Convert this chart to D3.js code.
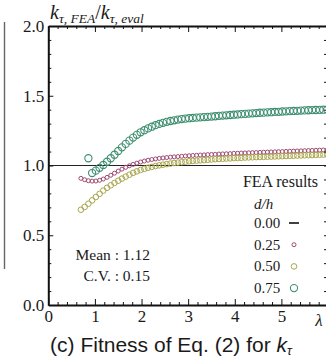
<!DOCTYPE html>
<html>
<head>
<meta charset="utf-8">
<script src="https://cdn.jsdelivr.net/npm/d3@7"></script>
<style>
  html, body { margin: 0; padding: 0; background: #fff; }
  svg { display: block; }
  .serif { font-family: "Liberation Serif", "DejaVu Serif", serif; fill: #1a1a1a; }
  .sans { font-family: "Liberation Sans", Arial, sans-serif; fill: #1a1a1a; }
</style>
</head>
<body>
<svg id="chart" width="326" height="360"></svg>
<script>
// Slenderness ratio λ at which each FEA run was made
const lambda = [
  0.70, 0.78, 0.86, 0.94, 1.02, 1.10, 1.18, 1.26, 1.34, 1.42,
  1.50, 1.58, 1.66, 1.74, 1.82, 1.90, 1.98, 2.06, 2.14, 2.22,
  2.30, 2.38, 2.46, 2.54, 2.62, 2.70, 2.78, 2.86, 2.94, 3.02,
  3.10, 3.18, 3.26, 3.34, 3.42, 3.50, 3.58, 3.66, 3.74, 3.82,
  3.90, 3.98, 4.06, 4.14, 4.22, 4.30, 4.38, 4.46, 4.54, 4.62,
  4.70, 4.78, 4.86, 4.94, 5.02, 5.10, 5.18, 5.26, 5.34, 5.42,
  5.50, 5.58, 5.66, 5.74, 5.82, 5.90, 5.98
];

// k_τ,FEA / k_τ,eval for d/h = 0.25
const ratio025 = [
  0.908, 0.898, 0.891, 0.888, 0.889, 0.894, 0.903, 0.915, 0.930, 0.945,
  0.960, 0.974, 0.987, 0.998, 1.008, 1.017, 1.025, 1.032, 1.038, 1.043,
  1.047, 1.051, 1.054, 1.057, 1.060, 1.062, 1.064, 1.066, 1.068, 1.070,
  1.072, 1.073, 1.075, 1.076, 1.078, 1.079, 1.080, 1.082, 1.083, 1.084,
  1.085, 1.087, 1.088, 1.089, 1.090, 1.091, 1.092, 1.093, 1.094, 1.095,
  1.096, 1.097, 1.098, 1.099, 1.100, 1.101, 1.102, 1.103, 1.104, 1.105,
  1.106, 1.107, 1.108, 1.109, 1.110, 1.111, 1.112
];

// k_τ,FEA / k_τ,eval for d/h = 0.50
const ratio050 = [
  0.683, 0.703, 0.726, 0.750, 0.774, 0.797, 0.820, 0.840, 0.858, 0.875,
  0.891, 0.906, 0.920, 0.934, 0.947, 0.958, 0.968, 0.976, 0.984, 0.990,
  0.996, 1.001, 1.006, 1.010, 1.014, 1.018, 1.021, 1.024, 1.027, 1.030,
  1.033, 1.035, 1.037, 1.039, 1.041, 1.043, 1.045, 1.047, 1.048, 1.050,
  1.051, 1.053, 1.054, 1.055, 1.057, 1.058, 1.059, 1.060, 1.061, 1.062,
  1.063, 1.064, 1.065, 1.066, 1.067, 1.068, 1.069, 1.070, 1.071, 1.072,
  1.073, 1.074, 1.075, 1.076, 1.077, 1.078, 1.079
];

// k_τ,FEA / k_τ,eval for d/h = 0.75 (no runs at the two smallest λ)
const ratio075 = [
  null,  null,  1.052, 0.946, 0.963, 0.983, 1.004, 1.027, 1.052, 1.077,
  1.104, 1.130, 1.155, 1.178, 1.200, 1.220, 1.238, 1.253, 1.266, 1.278,
  1.289, 1.298, 1.306, 1.313, 1.319, 1.324, 1.329, 1.333, 1.336, 1.339,
  1.341, 1.343, 1.345, 1.347, 1.349, 1.351, 1.353, 1.356, 1.358, 1.360,
  1.362, 1.364, 1.366, 1.368, 1.370, 1.372, 1.374, 1.376, 1.378, 1.379,
  1.381, 1.382, 1.384, 1.385, 1.387, 1.388, 1.390, 1.391, 1.392, 1.394,
  1.395, 1.396, 1.397, 1.398, 1.399, 1.400, 1.401
];

// d/h = 0.00: the evaluation matches FEA exactly
const lambda000 = [0, 6];
const ratio000 = [1.0, 1.0];

const xTicks = [0, 1, 2, 3, 4, 5];
const yTicks = [0.0, 0.5, 1.0, 1.5, 2.0];
const legendLabels = ["0.00", "0.25", "0.50", "0.75"];
const statLines = ["Mean : 1.12", "C.V. : 0.15"];

const series = [
  { label: "0.25", values: ratio025, color: "#a04a72", r: 2.0, sw: 1.0 },
  { label: "0.50", values: ratio050, color: "#a9a64c", r: 2.8, sw: 1.0 },
  { label: "0.75", values: ratio075, color: "#3e8e70", r: 3.6, sw: 1.1 }
];

const svg = d3.select("#chart");

const x = d3.scaleLinear().domain([0, 6]).range([48.3, 328]);
const y = d3.scaleLinear().domain([0, 2]).range([305, 26]);

// Edge of the neighbouring panel
svg.append("line")
  .attr("x1", 4.5).attr("x2", 4.5).attr("y1", 22).attr("y2", 269)
  .attr("stroke", "#666").attr("stroke-width", 1.4);

// Reference line for d/h = 0.00
svg.append("path")
  .datum(lambda000.map((l, i) => [l, ratio000[i]]))
  .attr("fill", "none").attr("stroke", "#222").attr("stroke-width", 1)
  .attr("d", d3.line().x(d => x(d[0])).y(d => y(d[1])));

// FEA result markers
series.forEach(s => {
  const pts = lambda.map((l, i) => ({ l, v: s.values[i] })).filter(d => d.v != null);
  svg.append("g").selectAll("circle").data(pts).join("circle")
    .attr("cx", d => x(d.l)).attr("cy", d => y(d.v))
    .attr("r", s.r).attr("fill", "none")
    .attr("stroke", s.color).attr("stroke-width", s.sw);
});

// Axes: ticks point into the frame
const minorX = d3.range(0, 6.001, 0.2).filter(v => Math.abs(v - Math.round(v)) > 1e-6);
const minorY = d3.range(0, 2.001, 0.1).filter(v => Math.abs(v * 2 - Math.round(v * 2)) > 1e-6);

function styleAxis(g, width) {
  g.select(".domain").attr("stroke", "#111").attr("stroke-width", width);
  g.selectAll(".tick line").attr("stroke", "#111").attr("stroke-width", 1);
}

const gBottom = svg.append("g").attr("transform", `translate(0,${y(0)})`)
  .call(d3.axisBottom(x).tickValues(xTicks).tickSize(-6).tickSizeOuter(0).tickPadding(5)
    .tickFormat(d3.format("d")));
styleAxis(gBottom, 2);
gBottom.selectAll(".tick text").attr("class", "serif").attr("font-size", 17).attr("fill", "#1a1a1a");
gBottom.append("g").call(d3.axisBottom(x).tickValues(minorX).tickSize(-3).tickFormat(""))
  .call(g => g.select(".domain").remove())
  .selectAll(".tick line").attr("stroke", "#111");

const gTop = svg.append("g").attr("transform", `translate(0,${y(2)})`)
  .call(d3.axisTop(x).tickValues(xTicks.concat([6])).tickSize(-6).tickSizeOuter(0).tickFormat(""));
styleAxis(gTop, 2);
gTop.append("g").call(d3.axisTop(x).tickValues(minorX).tickSize(-3).tickFormat(""))
  .call(g => g.select(".domain").remove())
  .selectAll(".tick line").attr("stroke", "#111");

const gLeft = svg.append("g").attr("transform", `translate(${x(0)},0)`)
  .call(d3.axisLeft(y).tickValues(yTicks).tickSize(-5).tickSizeOuter(0).tickPadding(4)
    .tickFormat(d3.format(".1f")));
styleAxis(gLeft, 2);
gLeft.selectAll(".tick text").attr("class", "serif").attr("font-size", 17).attr("fill", "#1a1a1a");
gLeft.append("g").call(d3.axisLeft(y).tickValues(minorY).tickSize(-3).tickFormat(""))
  .call(g => g.select(".domain").remove())
  .selectAll(".tick line").attr("stroke", "#111");

const gRight = svg.append("g").attr("transform", `translate(${x(6)},0)`)
  .call(d3.axisRight(y).tickValues(d3.range(0, 2.001, 0.1)).tickSize(-4).tickSizeOuter(0).tickFormat(""));
styleAxis(gRight, 2);

// λ label at the end of the x axis
svg.append("text").attr("class", "serif")
  .attr("x", 319).attr("y", y(0) + 21).attr("text-anchor", "middle")
  .attr("font-size", 17).attr("font-style", "italic").text("λ");

// Axis title above the y axis
const title = svg.append("text").attr("class", "serif")
  .attr("x", 50).attr("y", 19).attr("font-style", "italic");
title.append("tspan").attr("font-size", 20).text("k");
title.append("tspan").attr("font-size", 13.5).attr("dy", 3.5).text("τ, FEA");
title.append("tspan").attr("font-size", 20).attr("dy", -3.5).attr("font-style", "normal").text("/");
title.append("tspan").attr("font-size", 20).text("k");
title.append("tspan").attr("font-size", 13.5).attr("dy", 3.5).text("τ, eval");

// Statistics of the fit
statLines.forEach((t, i) => {
  svg.append("text").attr("class", "serif")
    .attr("x", 150).attr("y", 260 + i * 20.5).attr("text-anchor", "end")
    .attr("font-size", 15.5).text(t);
});

// Legend
const lg = svg.append("g");
lg.append("text").attr("class", "serif").attr("x", 318).attr("y", 187)
  .attr("text-anchor", "end").attr("font-size", 16).text("FEA results");
lg.append("text").attr("class", "serif").attr("x", 254).attr("y", 209)
  .attr("font-size", 15).attr("font-style", "italic").text("d/h");
const rowY = i => 228 + i * 21.7;
legendLabels.forEach((t, i) => {
  lg.append("text").attr("class", "serif").attr("x", 254).attr("y", rowY(i))
    .attr("font-size", 15).text(t);
});
lg.append("line")
  .attr("x1", 289).attr("x2", 299).attr("y1", rowY(0) - 5).attr("y2", rowY(0) - 5)
  .attr("stroke", "#111").attr("stroke-width", 1.6);
series.forEach((s, i) => {
  lg.append("circle").attr("cx", 294).attr("cy", rowY(i + 1) - 5)
    .attr("r", s.r).attr("fill", "none").attr("stroke", s.color).attr("stroke-width", s.sw);
});

// Caption
const cap = svg.append("text").attr("class", "sans")
  .attr("x", 171).attr("y", 352).attr("text-anchor", "middle").attr("font-size", 21);
cap.append("tspan").text("(c) Fitness of Eq. (2) for ");
cap.append("tspan").attr("font-style", "italic").text("k");
cap.append("tspan").attr("font-style", "italic").attr("font-size", 13).attr("dy", 3).text("τ");
</script>
</body>
</html>
